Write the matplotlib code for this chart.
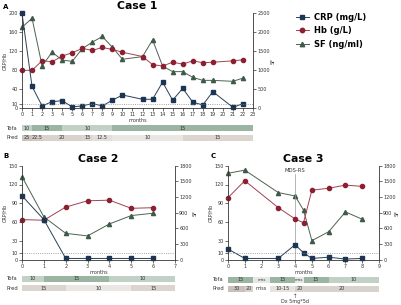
import numpy as np
import matplotlib
matplotlib.use('Agg')
import matplotlib.pyplot as plt
from matplotlib.lines import Line2D

# ---- data ----
months1 = [0, 1, 2, 3, 4, 5, 6, 7, 8, 9, 10, 12, 13, 14, 15, 16, 17, 18, 19, 21, 22]
crp1 = [200, 46, 5, 14, 16, 3, 5, 10, 5, 17, 28, 19, 19, 55, 17, 42, 13, 7, 35, 2, 10]
hb1 = [80, 80, 100, 98, 110, 117, 126, 122, 128, 124, 118, 109, 92, 89, 97, 93, 100, 96, 97, 100, 102]
sf1 = [2130, 2370, 1120, 1475, 1270, 1235, 1570, 1740, 1890, 1605, 1290, 1360, 1800, 1110,
       965, 965, 815, 735, 735, 710, 795]

months2 = [0, 1, 2, 3, 4, 5, 6]
crp2 = [102, 64, 2, 2, 2, 2, 2]
hb2 = [64, 63, 84, 94, 95, 82, 83]
sf2 = [1590, 820, 505, 455, 685, 845, 890]

months3 = [0, 1, 3, 4, 4.5, 5, 6, 7, 8]
crp3 = [17, 2, 2, 24, 11, 2, 4, 1, 2]
hb3 = [99, 126, 83, 65, 59, 111, 114, 119, 117]
sf3 = [1655, 1715, 1285, 1220, 950, 365, 535, 915, 775]

# dose bars: (start, end, label)
tofa1 = [(0, 1, '10'), (1, 4, '15'), (4, 9, '10'), (9, 23, '15')]
pred1 = [(0, 1, '25'), (1, 2, '22.5'), (2, 6, '20'), (6, 7, '15'), (7, 9, '12.5'),
         (9, 16, '10'), (16, 23, '15')]
tofa2 = [(0, 1, '10'), (1, 4, '15'), (4, 7, '10')]
pred2 = [(0, 2, '15'), (2, 5, '10'), (5, 7, '15')]
tofa3 = [(0, 1.5, '15'), (1.5, 2.5, 'miss'), (2.5, 4, '15'), (4, 4.5, 'miss'),
         (4.5, 6, '15'), (6, 9, '10')]
pred3 = [(0, 1, '30'), (1, 1.5, '20'), (1.5, 2.5, 'miss'), (2.5, 4, '10-15'),
         (4, 4.5, '20'), (4.5, 9, '20')]

tofa_col = {'15': '#9bb5a2', '10': '#c2d1c5', 'miss': '#e4e9e5'}
pred_col = {'30': '#c9c1b9', '25': '#cbc4bd', '22.5': '#d2cbc5', '20': '#d8d2cc',
            '15': '#dbd5cf', '12.5': '#e2deda', '10': '#e9e6e3', '10-15': '#e6e2de'}

c_crp = '#1b3553'
c_hb = '#8c1f30'
c_sf = '#3f5a48'

W, H = 401, 305
fig = plt.figure(figsize=(W / 100, H / 100), dpi=100)


def add_ax(x0, y0, x1, y1):
    return fig.add_axes([x0 / W, 1 - y1 / H, (x1 - x0) / W, (y1 - y0) / H])


def style(ax):
    for s in ['left', 'right', 'bottom']:
        ax.spines[s].set_linewidth(0.6)
        ax.spines[s].set_color('#333333')
    ax.spines['top'].set_visible(False)
    ax.tick_params(length=2, width=0.5, labelsize=3.5, pad=1, colors='#333333')


def case_panel(box, months, crp, hb, sf, xmax, lmax, lticks, rmax, rticks, title):
    ax = add_ax(*box)
    ax2 = ax.twinx()
    ax.set_zorder(ax2.get_zorder() + 1)
    ax.patch.set_visible(False)
    style(ax)
    style(ax2)
    ax.spines['right'].set_visible(False)
    ax2.spines['left'].set_visible(False)
    ax2.spines['bottom'].set_visible(False)

    ax2.plot(months, sf, color='#4c6253', lw=0.7, marker='^', ms=3,
             mfc=c_sf, mec=c_sf, clip_on=False)
    ax.plot(months, hb, color='#a34150', lw=0.7, marker='o', ms=3,
            mfc=c_hb, mec=c_hb, clip_on=False)
    ax.plot(months, crp, color='#2a4058', lw=0.7, marker='s', ms=3,
            mfc=c_crp, mec=c_crp, clip_on=False)
    ax.axhline(10, ls=':', color='#888888', lw=0.6)

    ax.set_xlim(0, xmax)
    ax.set_ylim(0, lmax)
    ax2.set_ylim(0, rmax)
    ax.set_xticks(range(xmax + 1))
    ax.set_yticks(lticks)
    ax2.set_yticks(rticks)
    ax.set_xlabel('months', fontsize=3.5, labelpad=0.5, color='#333333')
    ax.set_ylabel('CRP/Hb', fontsize=3.5, labelpad=1, color='#333333')
    ax2.set_ylabel('SF', fontsize=3.5, labelpad=0.8, color='#333333')
    ax.set_title(title, fontsize=7.8, fontweight='bold', pad=3)
    return ax, ax2


def dose_bar(x0, x1, y0, y1, segs, cols, xmax, name):
    axb = add_ax(x0, y0, x1, y1)
    for s, e, lab in segs:
        if lab == 'miss' and lab not in cols:
            axb.text((s + e) / 2, 0, lab, ha='center', va='center', fontsize=3.5,
                     color='#333333')
            continue
        axb.barh(0, e - s, left=s, height=1, color=cols.get(lab, '#dddddd'), lw=0)
        axb.text((s + e) / 2, 0, lab, ha='center', va='center',
                 fontsize=3.5 if lab != 'miss' else 2.6, color='#333333')
    axb.set_xlim(0, xmax)
    axb.set_ylim(-0.5, 0.5)
    axb.axis('off')
    fig.text((x0 - 4) / W, 1 - (y0 + y1) / 2 / H, name, ha='right', va='center',
             fontsize=3.8, color='#333333')


# ---- Case 1 ----
axA, axA2 = case_panel((22, 13.3, 253, 108.3), months1, crp1, hb1, sf1, 23, 200,
                       [0, 10, 40, 80, 120, 160, 200], 2500, range(0, 2501, 500), 'Case 1')
dose_bar(22, 253, 125, 131, tofa1, tofa_col, 23, 'Tofa')
dose_bar(22, 253, 134.5, 140.5, pred1, pred_col, 23, 'Pred')

handles = [Line2D([], [], color='#2a4058', lw=0.7, marker='s', ms=3.2, mfc=c_crp, mec=c_crp),
           Line2D([], [], color='#a34150', lw=0.7, marker='o', ms=3.2, mfc=c_hb, mec=c_hb),
           Line2D([], [], color='#4c6253', lw=0.7, marker='^', ms=3.2, mfc=c_sf, mec=c_sf)]
fig.legend(handles, ['CRP (mg/L)', 'Hb (g/L)', 'SF (ng/ml)'], loc='upper left',
           bbox_to_anchor=(288 / W, 1 - 5 / H), frameon=False, handlelength=1.6,
           handletextpad=0.6, labelspacing=0.55, prop={'size': 6, 'weight': 'bold'})

# ---- Case 2 ----
case_panel((22, 165.7, 175, 259.7), months2, crp2, hb2, sf2, 7, 150,
           [0, 10, 30, 60, 90, 120, 150], 1800, range(0, 1801, 300), 'Case 2')
dose_bar(22, 175, 275.7, 281.7, tofa2, tofa_col, 7, 'Tofa')
dose_bar(22, 175, 285, 291, pred2, pred_col, 7, 'Pred')

# ---- Case 3 ----
axC, axC2 = case_panel((228, 165.7, 379, 259.7), months3, crp3, hb3, sf3, 9, 150,
                       [0, 10, 30, 60, 90, 120, 150], 1800, range(0, 1801, 300), 'Case 3')
axC2.yaxis.set_label_coords(1.105, 0.5)
axC.plot([4, 4], [0, 136], color='#999999', lw=0.5, zorder=0)
axC.text(4, 139, 'MDS-RS', ha='center', va='bottom', fontsize=3.8, color='#333333')
dose_bar(228, 379, 276.7, 282.7, tofa3, tofa_col, 9, 'Tofa')
dose_bar(228, 379, 285.7, 291.7, pred3, pred_col, 9, 'Pred')
fig.text(295 / W, 1 - 296 / H, '\u2191', ha='center', va='center', fontsize=4,
         color='#444444')
fig.text(295 / W, 1 - 302 / H, 'Dx 5mg*5d', ha='center', va='center', fontsize=3.5,
         color='#333333')

# panel letters
fig.text(3 / W, 1 - 7 / H, 'A', fontsize=5, fontweight='bold', va='center')
fig.text(3 / W, 1 - 156 / H, 'B', fontsize=5, fontweight='bold', va='center')
fig.text(211 / W, 1 - 156 / H, 'C', fontsize=5, fontweight='bold', va='center')

fig.savefig('out.png', dpi=100)
